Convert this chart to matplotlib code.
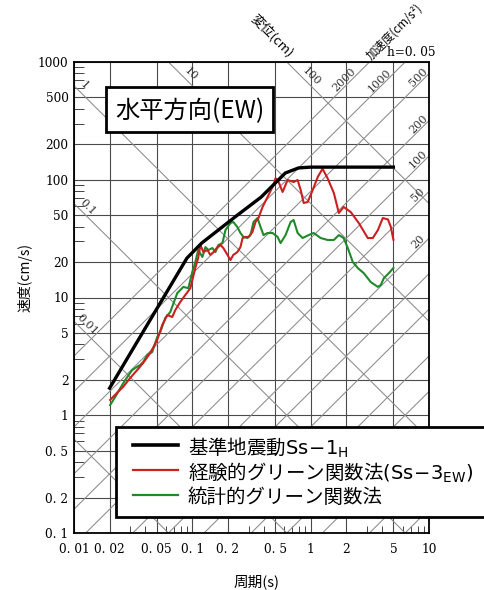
import numpy as np
import matplotlib
matplotlib.use('Agg')
import matplotlib.pyplot as plt
from matplotlib.lines import Line2D
from matplotlib.patches import Rectangle
from matplotlib.ticker import LogLocator, NullFormatter, FixedLocator, FixedFormatter

plt.rcParams['font.family'] = ['Noto Sans CJK JP', 'DejaVu Sans']
plt.rcParams['mathtext.fontset'] = 'custom'
plt.rcParams['mathtext.rm'] = 'DejaVu Sans'
plt.rcParams['mathtext.it'] = 'DejaVu Sans'

# ---------------- data ----------------
period_ss1 = [0.02, 0.09, 0.12, 0.24, 0.38, 0.61, 0.79, 1.0, 5.0]
sv_ss1 = [1.7, 21.6, 29.0, 50.0, 71.0, 114.0, 126.0, 128.0, 128.0]

period_egf = [0.0202, 0.0231, 0.0260, 0.0298, 0.0342, 0.0384, 0.0441, 0.0505, 0.0557,
              0.0614, 0.0677, 0.0718, 0.0791, 0.0872, 0.0962, 0.106, 0.112, 0.117,
              0.124, 0.134, 0.142, 0.151, 0.163, 0.173, 0.183, 0.198, 0.210, 0.222,
              0.240, 0.255, 0.266, 0.281, 0.299, 0.322, 0.342, 0.362, 0.392, 0.425,
              0.485, 0.505, 0.536, 0.579, 0.638, 0.718, 0.776, 0.823, 0.873, 0.944,
              1.04, 1.15, 1.26, 1.39, 1.57, 1.73, 1.90, 2.18, 2.55, 3.04, 3.35, 3.70,
              4.07, 4.50, 4.76, 5.0]
sv_egf = [1.35, 1.55, 1.74, 2.07, 2.42, 2.78, 3.38, 4.36, 5.84,
          7.10, 6.83, 7.83, 9.16, 10.5, 12.0, 17.8, 21.6, 27.9,
          24.3, 25.3, 23.0, 24.3, 26.8, 27.9, 26.3, 23.0, 20.8, 23.0,
          24.3, 26.8, 32.0, 32.7, 32.7, 36.0, 43.8, 47.3, 58.7, 69.0,
          90.2, 103.0, 95.7, 78.7, 99.5, 95.7, 99.5, 81.8, 63.5, 64.7,
          81.8, 106.0, 124.0, 103.0, 77.2, 52.2, 58.7, 53.2, 42.9, 32.0, 32.0, 37.4,
          47.3, 46.0, 39.7, 31.0]

period_sgf = [0.0202, 0.0223, 0.0246, 0.0271, 0.0310, 0.0329, 0.0362, 0.0384, 0.0416,
              0.0458, 0.0505, 0.0536, 0.0591, 0.0651, 0.0746, 0.0840, 0.0925, 0.100,
              0.106, 0.112, 0.1216, 0.129, 0.1367, 0.1477, 0.1567, 0.166, 0.1796,
              0.1905, 0.210, 0.222, 0.240, 0.255, 0.2705, 0.2924, 0.310, 0.329,
              0.3554, 0.377, 0.3996, 0.432, 0.4766, 0.5253, 0.5568, 0.6138, 0.677,
              0.718, 0.776, 0.855, 0.962, 1.06, 1.215, 1.39, 1.57, 1.73, 1.90, 2.06,
              2.27, 2.50, 2.81, 3.225, 3.70, 3.92, 4.155, 4.58, 5.0]
sv_sgf = [1.22, 1.43, 1.70, 1.99, 2.42, 2.52, 2.67, 2.83, 3.25,
          3.44, 4.62, 5.09, 6.70, 7.53, 10.9, 12.3, 12.0, 16.5,
          20.0, 25.3, 22.1, 26.8, 25.3, 26.3, 24.3, 27.9, 29.0,
          37.4, 42.9, 43.8, 39.7, 35.3, 32.7, 32.0, 33.9, 43.8,
          47.3, 39.7, 33.9, 35.3, 35.3, 32.7, 29.0, 33.9, 43.8,
          45.5, 35.3, 32.0, 33.9, 35.3, 32.0, 30.8, 30.8, 33.9, 32.0, 26.3,
          20.0, 17.8, 16.1, 13.5, 12.3, 12.8, 14.6, 16.1, 17.8]

disp_lines = [0.001, 0.01, 0.1, 1, 10, 100]
acc_lines = [0.1, 0.2, 0.5, 1, 2, 5, 10, 20, 50, 100, 200, 500, 1000, 2000]

disp_labels = ['0.01', '0.1', '1', '10', '100']
disp_label_values = [0.01, 0.1, 1, 10, 100]
disp_label_T = [0.0117, 0.0118, 0.0110, 0.0881, 0.925]

acc_labels = ['2000', '1000', '500', '200', '100', '50', '20']
acc_label_values = [2000, 1000, 500, 200, 100, 50, 20]
acc_label_T = [2.06, 4.07, 8.7, 8.7, 8.7, 8.7, 8.7]

x_ticks = [0.01, 0.02, 0.05, 0.1, 0.2, 0.5, 1, 2, 5, 10]
x_ticklabels = ['0. 01', '0. 02', '0. 05', '0. 1', '0. 2', '0. 5', '1', '2', '5', '10']
y_ticks = [0.1, 0.2, 0.5, 1, 2, 5, 10, 20, 50, 100, 200, 500, 1000]
y_ticklabels = ['0. 1', '0. 2', '0. 5', '1', '2', '5', '10', '20', '50', '100', '200', '500', '1000']

series_labels = ['基準地震動$\\mathrm{Ss\\!-\\!1_H}$',
                 '経験的グリーン関数法$\\mathrm{(Ss\\!-\\!3_{EW})}$',
                 '統計的グリーン関数法']
RED = '#cc1f1f'
GREEN = '#1f8a2a'

# ---------------- figure ----------------
W, H = 485, 590
fig = plt.figure(figsize=(W / 100, H / 100), dpi=100)
fig.patch.set_facecolor('white')


def fx(px):
    return px / W


def fy(py):
    return 1 - py / H


ax = fig.add_axes([fx(74), fy(533), (429 - 74) / W, (533 - 62) / H])
ax.set_xscale('log')
ax.set_yscale('log')

# tripartite diagonals
Tline = np.array([0.001, 100.0])
for D in disp_lines:
    ax.plot(Tline, 2 * np.pi * D / Tline, color='#8a8a8a', lw=0.75, zorder=1)
for A in acc_lines:
    ax.plot(Tline, A * Tline / (2 * np.pi), color='#8a8a8a', lw=0.75, zorder=1)

# spectra
ax.plot(period_sgf, sv_sgf, color=GREEN, lw=1.5, zorder=4)
ax.plot(period_egf, sv_egf, color=RED, lw=1.5, zorder=5)
ax.plot(period_ss1, sv_ss1, color='black', lw=2.4, zorder=6)

ax.set_xlim(0.01, 10)
ax.set_ylim(0.1, 1000)

ax.xaxis.set_major_locator(FixedLocator(x_ticks))
ax.xaxis.set_major_formatter(FixedFormatter(x_ticklabels))
ax.yaxis.set_major_locator(FixedLocator(y_ticks))
ax.yaxis.set_major_formatter(FixedFormatter(y_ticklabels))
ax.xaxis.set_minor_locator(LogLocator(base=10, subs=[3, 4, 6, 7, 8, 9]))
ax.yaxis.set_minor_locator(LogLocator(base=10, subs=[3, 4, 6, 7, 8, 9]))
ax.xaxis.set_minor_formatter(NullFormatter())
ax.yaxis.set_minor_formatter(NullFormatter())
ax.tick_params(which='major', length=0)
ax.tick_params(axis='x', which='major', pad=7)
ax.tick_params(axis='y', which='major', pad=4)
ax.tick_params(axis='x', which='minor', direction='in', length=5, width=0.7, color='#444')
ax.tick_params(axis='y', which='minor', direction='in', length=7, width=0.7, color='#444')
for lab in ax.get_xticklabels() + ax.get_yticklabels():
    lab.set_family('DejaVu Serif')
    lab.set_fontsize(8.7)
ax.grid(True, which='major', color='#4a4a4a', lw=0.8, zorder=0)
ax.set_axisbelow(True)
for s in ax.spines.values():
    s.set_linewidth(1.3)
    s.set_color('black')

# diagonal labels
for txt, D, T in zip(disp_labels, disp_label_values, disp_label_T):
    ax.annotate(txt, xy=(T, 2 * np.pi * D / T), xytext=(3.6, 3.6), textcoords='offset points',
                rotation=-45, ha='center', va='center', fontsize=8, family='DejaVu Serif',
                color='#333', zorder=3)
for txt, A, T in zip(acc_labels, acc_label_values, acc_label_T):
    ax.annotate(txt, xy=(T, A * T / (2 * np.pi)), xytext=(-2.6, 2.6), textcoords='offset points',
                rotation=45, ha='center', va='center', fontsize=8, family='DejaVu Serif',
                color='#333', zorder=3)

# axis titles and annotations
fig.text(fx(25), fy(277), '速度(cm/s)', rotation=90, ha='center', va='center', fontsize=10)
fig.text(fx(257), fy(582), '周期(s)', ha='center', va='center', fontsize=10.5)
fig.text(fx(411), fy(52), 'h=0. 05', ha='center', va='center', fontsize=8.7, family='DejaVu Serif')
fig.text(fx(272), fy(36), '変位(cm)', rotation=-45, ha='center', va='center', fontsize=9.5)
fig.text(fx(368), fy(58), '加速度(cm/s²)', rotation=45, rotation_mode='anchor',
         ha='left', va='center', fontsize=8.3)

# title box
fig.patches.append(Rectangle((fx(106), fy(132)), fx(273) - fx(106), fy(87) - fy(132),
                             transform=fig.transFigure, facecolor='white', edgecolor='black',
                             lw=2, zorder=5))
fig.text(fx(189.5), fy(111), '水平方向(EW)', ha='center', va='center', fontsize=17.5, zorder=6)

# legend box (manual)
fig.patches.append(Rectangle((fx(116), fy(517)), fx(500) - fx(116), fy(427) - fy(517),
                             transform=fig.transFigure, facecolor='white', edgecolor='black',
                             lw=2, zorder=5))
for yy, col, lw, lab in zip([445, 470, 495], ['black', RED, GREEN], [2.6, 1.6, 1.6], series_labels):
    fig.lines.append(Line2D([fx(133), fx(178)], [fy(yy), fy(yy)], transform=fig.transFigure,
                            color=col, lw=lw, zorder=6))
    fig.text(fx(188), fy(yy), lab, ha='left', va='center_baseline', fontsize=14, zorder=7)

fig.savefig('out.png', dpi=100, facecolor='white')
